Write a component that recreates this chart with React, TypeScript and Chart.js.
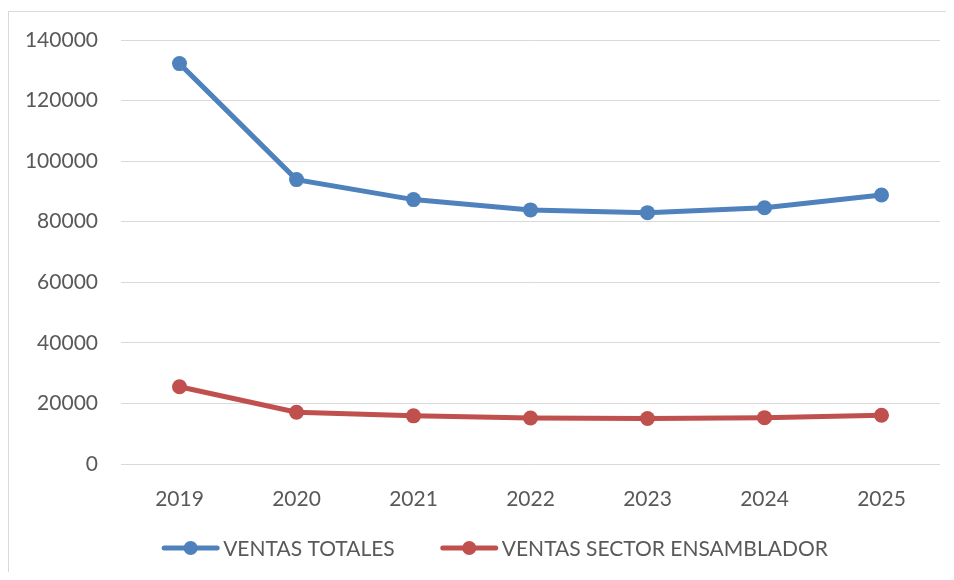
import React, { useEffect, useRef } from "react";
import { Chart, registerables } from "chart.js";

Chart.register(...registerables);

const years = ["2019", "2020", "2021", "2022", "2023", "2024", "2025"];
const ventasTotales = [132200, 93900, 87300, 83900, 83000, 84600, 88800];
const ventasSectorEnsamblador = [25500, 17100, 15900, 15200, 15000, 15300, 16100];
const seriesLabels = ["VENTAS TOTALES", "VENTAS SECTOR ENSAMBLADOR"];
const yMin = 0;
const yMax = 140000;
const yStep = 20000;

const FONT = "Lato, 'Liberation Sans', sans-serif";

const legendPlugin = {
  id: "excelLegend",
  afterDraw(chart: any) {
    const ctx = chart.ctx as CanvasRenderingContext2D;
    ctx.save();
    ctx.font = `21px ${FONT}`;
    ctx.textBaseline = "middle";
    ctx.textAlign = "left";
    const lineW = 57;
    const gap = 4;
    const itemGap = 46;
    const items = chart.data.datasets.map((ds: any) => ({
      label: ds.label as string,
      color: ds.borderColor as string,
      w: lineW + gap + ctx.measureText(ds.label).width,
    }));
    const total =
      items.reduce((s: number, it: any) => s + it.w, 0) + itemGap * (items.length - 1);
    let x = chart.width / 2 - total / 2 + 2;
    const y = 536;
    for (const it of items) {
      ctx.strokeStyle = it.color;
      ctx.lineWidth = 5;
      ctx.lineCap = "round";
      ctx.beginPath();
      ctx.moveTo(x + 2, y);
      ctx.lineTo(x + lineW - 2, y);
      ctx.stroke();
      ctx.fillStyle = it.color;
      ctx.beginPath();
      ctx.arc(x + lineW / 2, y, 7, 0, Math.PI * 2);
      ctx.fill();
      ctx.fillStyle = "#595959";
      ctx.fillText(it.label, x + lineW + gap, y + 1);
      x += it.w + itemGap;
    }
    ctx.restore();
  },
};

export default function App() {
  const ref = useRef<HTMLCanvasElement | null>(null);

  useEffect(() => {
    if (!ref.current) return;
    const chart = new Chart(ref.current, {
      type: "line",
      data: {
        labels: years,
        datasets: [
          {
            label: seriesLabels[0],
            data: ventasTotales,
            borderColor: "#4F81BD",
            backgroundColor: "#4F81BD",
            borderWidth: 5,
            pointRadius: 7.5,
            pointBorderWidth: 0,
            pointHoverRadius: 7.5,
            tension: 0,
          },
          {
            label: seriesLabels[1],
            data: ventasSectorEnsamblador,
            borderColor: "#C0504D",
            backgroundColor: "#C0504D",
            borderWidth: 5,
            pointRadius: 7.5,
            pointBorderWidth: 0,
            pointHoverRadius: 7.5,
            tension: 0,
          },
        ],
      },
      options: {
        animation: false,
        responsive: false,
        maintainAspectRatio: false,
        layout: { padding: { left: 0, right: 37, top: 28, bottom: 66 } },
        plugins: {
          legend: { display: false },
          tooltip: { enabled: false },
        },
        scales: {
          x: {
            offset: true,
            grid: { display: false },
            border: { display: false },
            ticks: {
              color: "#595959",
              font: { family: FONT, size: 21 },
              padding: 15,
              maxRotation: 0,
            },
            afterFit: (scale: any) => {
              scale.height = 50;
              scale.paddingLeft = 0;
              scale.paddingRight = 0;
            },
          },
          y: {
            min: yMin,
            max: yMax,
            grid: { color: "#d9d9d9", lineWidth: 1, drawTicks: false },
            border: { display: false },
            ticks: {
              stepSize: yStep,
              color: "#595959",
              font: { family: FONT, size: 21 },
              padding: 23,
              callback: (v: any) => String(v),
            },
            afterFit: (scale: any) => {
              scale.width = 112;
              scale.paddingTop = 0;
              scale.paddingBottom = 0;
            },
          },
        },
      },
      plugins: [legendPlugin],
    });
    return () => chart.destroy();
  }, []);

  return (
    <div style={{ width: 946, height: 564, overflow: "hidden", background: "#fff" }}>
      <div
        style={{
          marginTop: 3,
          width: 968,
          height: 600,
          border: "1px solid #d9d9d9",
          boxSizing: "content-box",
        }}
      >
        <canvas ref={ref} width={968} height={568} style={{ display: "block", width: 968, height: 568 }} />
      </div>
    </div>
  );
}
